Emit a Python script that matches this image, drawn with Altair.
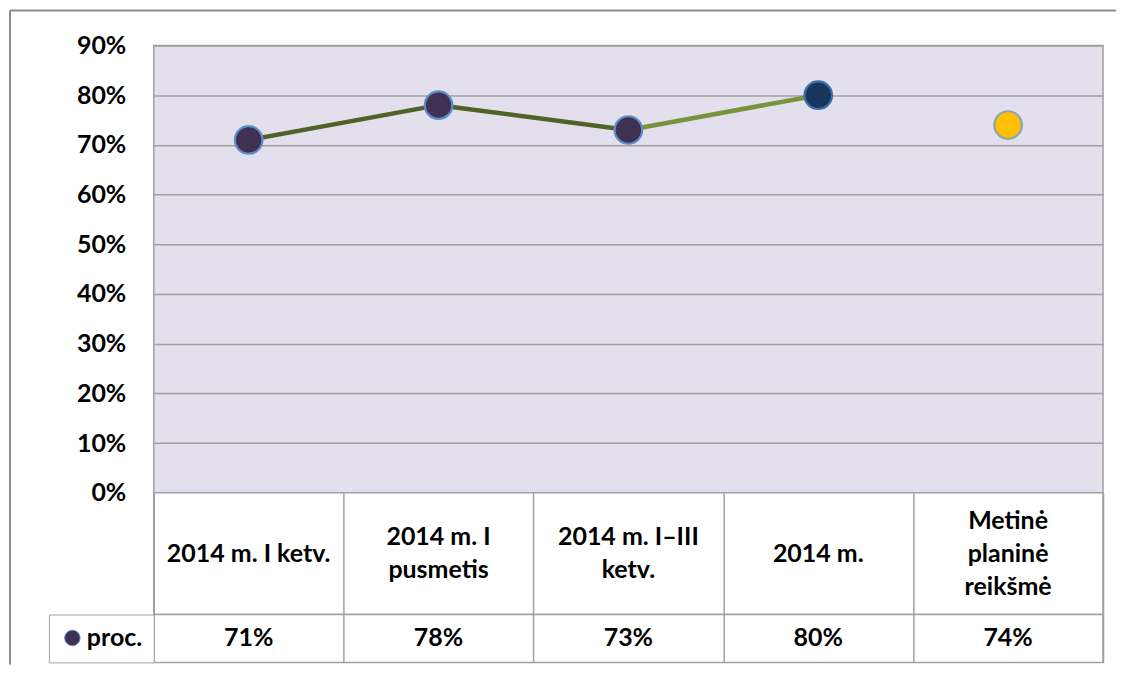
import altair as alt
import pandas as pd

# ---- data ----
categories = ["2014 m. I ketv.", "2014 m. I pusmetis", "2014 m. I–III ketv.", "2014 m.", "Metinė planinė reikšmė"]
category_labels = ["2014 m. I ketv.", "2014 m. I\npusmetis", "2014 m. I–III\nketv.", "2014 m.", "Metinė\nplaninė\nreikšmė"]
values = [0.71, 0.78, 0.73, 0.80, 0.74]
series_name = "proc."
line_categories = categories[:4]          # the plan value is not joined to the line
y_ticks = [0.0, 0.1, 0.2, 0.3, 0.4, 0.5, 0.6, 0.7, 0.8, 0.9]

# ---- styles ----
FONT = "Lato"
FS = 25
LINE_H = 33
GRID = "#A0A0A0"
PLOT_BG = "#E4DFEC"
segment_colors = ["#4F6228", "#4F6228", "#77933C"]
point_fills = ["#403152", "#403152", "#403152", "#17375E", "#FFC000"]
point_strokes = ["#5B8FCB", "#5B8FCB", "#5B8FCB", "#3C6EA8", "#8EA2B8"]
W = 951

df = pd.DataFrame({"category": categories, "label": category_labels, "value": values,
                   "series": [series_name] * len(categories)})
seg_rows = []
for i in range(len(line_categories) - 1):
    seg_rows.append({"seg": str(i), "c0": categories[i], "c1": categories[i + 1],
                     "v0": values[i], "v1": values[i + 1]})
seg_df = pd.DataFrame(seg_rows)

x_pt = alt.Scale(type="point", domain=categories, padding=0.5)
y_sc = alt.Scale(domain=[0, 0.9], nice=False)

frame_df = pd.DataFrame({"k": [0]})
frame_top = alt.Chart(frame_df).mark_rule(color="#8C8C8C", strokeWidth=2).encode(
    x=alt.value(-144), x2=alt.value(964), y=alt.value(-35))
frame_left = alt.Chart(frame_df).mark_rule(color="#8C8C8C", strokeWidth=2).encode(
    x=alt.value(-144), y=alt.value(-35), y2=alt.value(620))

segments = alt.Chart(seg_df).mark_rule(strokeWidth=4.5, strokeCap="round").encode(
    x=alt.X("c0:N", scale=x_pt, axis=None),
    x2="c1:N",
    y=alt.Y("v0:Q", scale=y_sc,
            axis=alt.Axis(values=y_ticks, format=".0%", title=None, ticks=False, tickSize=0,
                          domain=False, labelPadding=28, labelFont=FONT, labelFontSize=FS,
                          labelFontWeight="bold", labelColor="black",
                          gridColor=GRID, gridWidth=1.5)),
    y2="v1:Q",
    color=alt.Color("seg:N", scale=alt.Scale(domain=["0", "1", "2"], range=segment_colors), legend=None),
)

points = alt.Chart(df).mark_point(filled=True, shape="circle", size=760, strokeWidth=2.2, opacity=1).encode(
    x=alt.X("category:N", scale=x_pt, axis=None),
    y=alt.Y("value:Q", scale=y_sc),
    fill=alt.Fill("category:N", scale=alt.Scale(domain=categories, range=point_fills), legend=None),
    stroke=alt.Stroke("category:N", scale=alt.Scale(domain=categories, range=point_strokes), legend=None),
)

chart_a = alt.layer(frame_top, frame_left, segments, points).properties(
    width=W, height=448, view=alt.ViewBackground(fill=PLOT_BG, stroke=GRID, strokeWidth=1.5))

band_axis = alt.Axis(labels=False, ticks=False, domain=False, grid=True, tickBand="extent",
                     gridColor=GRID, gridWidth=1.5, title=None)
x_band = alt.X("category:N", scale=alt.Scale(domain=categories, paddingInner=0, paddingOuter=0), axis=band_axis)

chart_b = alt.Chart(df).transform_calculate(
    shift=f"-(split(datum.label, '\\n').length - 1) * {LINE_H} / 2"
).mark_text(font=FONT, fontSize=FS, fontWeight="bold", color="black",
            lineBreak="\n", lineHeight=LINE_H, baseline="middle").encode(
    x=x_band, text="label:N", yOffset=alt.YOffset("shift:Q", scale=None)
).properties(width=W, height=122, view=alt.ViewBackground(fill="white", stroke=GRID, strokeWidth=1.5))

vals_text = alt.Chart(df).mark_text(font=FONT, fontSize=FS, fontWeight="bold", color="black",
                                    baseline="middle").encode(
    x=x_band, text=alt.Text("value:Q", format=".0%"))
legend_pts = alt.Chart(df).mark_point(filled=True, shape="circle", size=0, opacity=1).encode(
    x=x_band,
    fill=alt.Fill("series:N", scale=alt.Scale(domain=[series_name], range=[point_fills[0]]),
                  legend=alt.Legend(orient="left", offset=0, title=None, padding=11,
                                    strokeColor=GRID, fillColor="white",
                                    labelFont=FONT, labelFontSize=FS, labelFontWeight="bold",
                                    labelColor="black", labelOffset=2,
                                    symbolType="circle", symbolSize=240,
                                    symbolStrokeColor=point_strokes[0], symbolStrokeWidth=1,
                                    symbolOpacity=1)),
)
chart_c = alt.layer(vals_text, legend_pts).properties(
    width=W, height=48, view=alt.ViewBackground(fill="white", stroke=GRID, strokeWidth=1.5))

chart = alt.vconcat(chart_a, chart_b, chart_c, spacing=0, bounds="flush").resolve_scale(
    x="independent", y="independent", fill="independent", stroke="independent", color="independent"
).properties(
    padding={"left": 0, "top": 0, "right": 0, "bottom": 0}, background="white"
)

chart.save("out.html", embed_options={"renderer": "svg", "actions": False})
